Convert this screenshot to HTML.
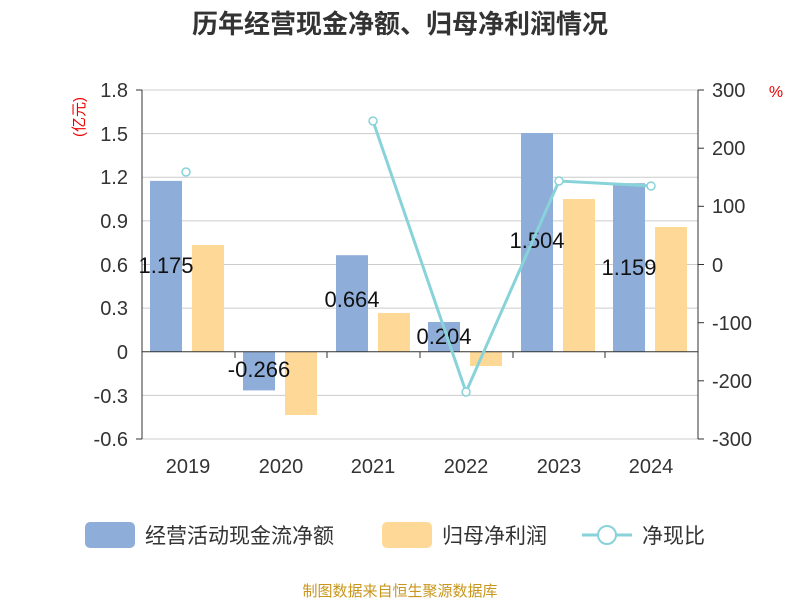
<!DOCTYPE html>
<html><head><meta charset="utf-8"><style>
body{margin:0;background:#fff;}
text{font-family:"Liberation Sans","Noto Sans CJK SC",sans-serif;}
</style></head><body>
<svg width="800" height="600" xmlns="http://www.w3.org/2000/svg">
<rect width="800" height="600" fill="#fff"/>
<text x="400" y="33" text-anchor="middle" font-size="26" font-weight="bold" fill="#333">历年经营现金净额、归母净利润情况</text>
<g stroke="#ccc" stroke-width="1">
<line x1="142" x2="698" y1="90" y2="90"/><line x1="142" x2="698" y1="133.6" y2="133.6"/>
<line x1="142" x2="698" y1="177.3" y2="177.3"/><line x1="142" x2="698" y1="220.9" y2="220.9"/>
<line x1="142" x2="698" y1="264.5" y2="264.5"/><line x1="142" x2="698" y1="308.1" y2="308.1"/>
<line x1="142" x2="698" y1="395.4" y2="395.4"/><line x1="142" x2="698" y1="439" y2="439"/>
</g>
<g fill="#8eadd9">
<rect x="150" y="180.9" width="32" height="170.8"/>
<rect x="243" y="351.7" width="32" height="38.7"/>
<rect x="336" y="255.2" width="32" height="96.5"/>
<rect x="428" y="322.0" width="32" height="29.7"/>
<rect x="521" y="133.0" width="32" height="218.7"/>
<rect x="613" y="183.2" width="32" height="168.5"/>
</g>
<g fill="#fed896">
<rect x="192" y="245" width="32" height="106.7"/>
<rect x="285" y="351.7" width="32" height="63.3"/>
<rect x="378" y="313" width="32" height="38.7"/>
<rect x="470" y="351.7" width="32" height="14.3"/>
<rect x="563" y="199" width="32" height="152.7"/>
<rect x="655" y="227" width="32" height="124.7"/>
</g>
<line x1="142" x2="698" y1="351.7" y2="351.7" stroke="#333"/>
<line x1="142" x2="142" y1="90" y2="439" stroke="#333"/>
<line x1="698" x2="698" y1="90" y2="439" stroke="#333"/>
<g stroke="#333"><line x1="142" x2="136" y1="90" y2="90"/><line x1="142" x2="136" y1="439" y2="439"/>
<line x1="698" x2="704" y1="90" y2="90"/><line x1="698" x2="704" y1="148.2" y2="148.2"/><line x1="698" x2="704" y1="206.3" y2="206.3"/><line x1="698" x2="704" y1="264.5" y2="264.5"/><line x1="698" x2="704" y1="322.7" y2="322.7"/><line x1="698" x2="704" y1="380.8" y2="380.8"/><line x1="698" x2="704" y1="439" y2="439"/>
<line x1="235" x2="235" y1="352" y2="358"/><line x1="327" x2="327" y1="352" y2="358"/><line x1="420" x2="420" y1="352" y2="358"/><line x1="513" x2="513" y1="352" y2="358"/><line x1="605" x2="605" y1="352" y2="358"/></g>
<g font-size="20" fill="#333" text-anchor="end">
<text x="128" y="97">1.8</text><text x="128" y="141">1.5</text><text x="128" y="184">1.2</text><text x="128" y="228">0.9</text><text x="128" y="272">0.6</text><text x="128" y="315">0.3</text><text x="128" y="359">0</text><text x="128" y="403">-0.3</text><text x="128" y="446">-0.6</text>
</g>
<g font-size="20" fill="#333">
<text x="712" y="97">300</text><text x="712" y="155">200</text><text x="712" y="213">100</text><text x="712" y="272">0</text><text x="712" y="330">-100</text><text x="712" y="388">-200</text><text x="712" y="446">-300</text>
</g>
<g font-size="20" fill="#333" text-anchor="middle">
<text x="188" y="473">2019</text><text x="281" y="473">2020</text><text x="373" y="473">2021</text><text x="466" y="473">2022</text><text x="559" y="473">2023</text><text x="651" y="473">2024</text>
</g>
<text x="84" y="117" font-size="15" fill="#e00" text-anchor="middle" transform="rotate(-90 84 117)">(亿元)</text>
<text x="776" y="97" font-size="16" fill="#e00" text-anchor="middle">%</text>
<g font-size="22" fill="#111" text-anchor="middle">
<text x="166" y="273">1.175</text><text x="259" y="377">-0.266</text><text x="352" y="307">0.664</text><text x="444" y="344">0.204</text><text x="537" y="248">1.504</text><text x="629" y="275">1.159</text>
</g>
<polyline points="373,121 466,392 559,181 651,186" fill="none" stroke="#88d3d9" stroke-width="3"/>
<g fill="#fff" stroke="#88d3d9" stroke-width="1.5">
<circle cx="186" cy="172" r="4"/><circle cx="373" cy="121" r="4"/><circle cx="466" cy="392" r="4"/><circle cx="559" cy="181" r="4"/><circle cx="651" cy="186" r="4"/>
</g>
<rect x="85" y="522" width="50" height="26" rx="5" fill="#8eadd9"/>
<text x="145" y="543" font-size="21" fill="#333">经营活动现金流净额</text>
<rect x="382" y="522" width="50" height="26" rx="5" fill="#fed896"/>
<text x="442" y="543" font-size="21" fill="#333">归母净利润</text>
<line x1="582" x2="632" y1="535" y2="535" stroke="#88d3d9" stroke-width="3"/>
<circle cx="607" cy="535" r="9" fill="#fff" stroke="#88d3d9" stroke-width="2"/>
<text x="642" y="543" font-size="21" fill="#333">净现比</text>
<text x="400" y="596" font-size="15" fill="#c8961c" text-anchor="middle">制图数据来自恒生聚源数据库</text>
</svg>
</body></html>
